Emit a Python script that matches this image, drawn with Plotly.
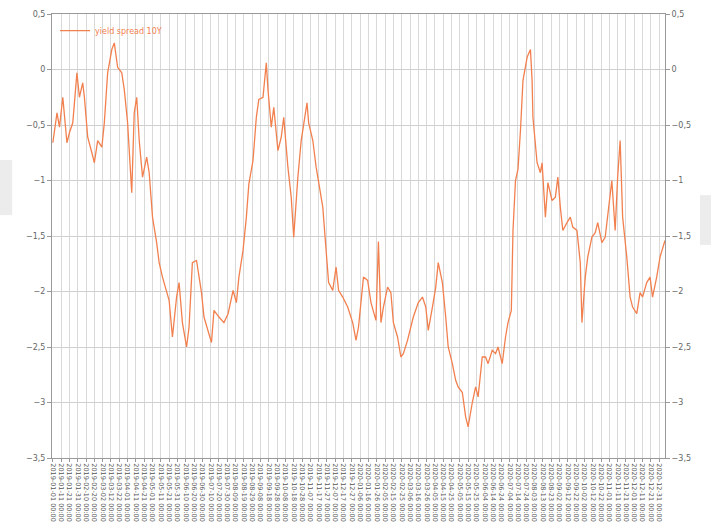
import datetime as dt
import plotly.graph_objects as go

# ---- data ----
start_date = "2019-01-01"
day_offsets = [0, 5, 8, 12, 17, 20, 24, 29, 32, 36, 38, 42, 47, 50, 54, 59, 62, 66, 71, 74,
               78, 83, 86, 90, 95, 98, 101, 104, 108, 113, 116, 120, 125, 128, 132, 137, 140, 144, 149, 152,
               156, 161, 164, 168, 173, 179, 182, 191, 194, 200, 206, 211, 217, 221, 224, 229, 233, 236, 241, 245,
               248, 253, 257, 259, 263, 266, 271, 275, 278, 283, 287, 290, 295, 299, 302, 306, 308, 313, 317, 323,
               325, 329, 332, 337, 341, 344, 349, 355, 361, 365, 368, 374, 379, 383, 389, 392, 395, 398, 403, 407,
               410, 415, 419, 422, 427, 431, 434, 440, 445, 449, 452, 457, 461, 464, 469, 473, 476, 481, 485, 488,
               493, 497, 500, 505, 509, 512, 517, 521, 524, 529, 533, 536, 541, 545, 548, 552, 554, 557, 560, 563,
               566, 571, 575, 577, 578, 583, 587, 589, 593, 596, 601, 605, 608, 611, 614, 619, 623, 626, 631, 635,
               637, 641, 644, 649, 653, 656, 661, 665, 668, 673, 677, 680, 683, 686, 691, 695, 698, 703, 707, 710,
               715, 719, 722, 727, 731, 737]
spread = [-0.66, -0.39, -0.52, -0.25, -0.66, -0.57, -0.48, -0.03, -0.25, -0.12, -0.25, -0.61, -0.75, -0.84, -0.64, -0.70, -0.48, -0.03, 0.18, 0.24,
          0.02, -0.03, -0.18, -0.48, -1.11, -0.39, -0.25, -0.64, -0.97, -0.79, -0.93, -1.33, -1.56, -1.74, -1.87, -1.99, -2.08, -2.41, -2.05, -1.92,
          -2.28, -2.50, -2.32, -1.74, -1.72, -2.01, -2.23, -2.46, -2.17, -2.23, -2.28, -2.20, -1.99, -2.10, -1.87, -1.63, -1.33, -1.03, -0.82, -0.43,
          -0.27, -0.25, 0.06, -0.18, -0.52, -0.34, -0.73, -0.61, -0.43, -0.88, -1.15, -1.51, -0.97, -0.64, -0.48, -0.30, -0.48, -0.64, -0.88, -1.15,
          -1.24, -1.63, -1.92, -1.99, -1.78, -1.99, -2.05, -2.14, -2.28, -2.44, -2.32, -1.87, -1.90, -2.10, -2.26, -1.55, -2.28, -2.14, -1.96, -2.01,
          -2.28, -2.41, -2.59, -2.56, -2.44, -2.32, -2.23, -2.10, -2.05, -2.14, -2.35, -2.14, -1.96, -1.74, -1.92, -2.23, -2.50, -2.65, -2.80, -2.86,
          -2.91, -3.13, -3.22, -3.00, -2.86, -2.95, -2.59, -2.59, -2.65, -2.53, -2.56, -2.50, -2.65, -2.41, -2.28, -2.17, -1.45, -1.00, -0.90, -0.55,
          -0.10, 0.11, 0.18, -0.10, -0.43, -0.84, -0.93, -0.84, -1.33, -1.02, -1.18, -1.15, -0.97, -1.24, -1.45, -1.38, -1.33, -1.42, -1.45, -1.74,
          -2.28, -1.87, -1.69, -1.51, -1.47, -1.38, -1.56, -1.51, -1.33, -1.00, -1.45, -0.97, -0.64, -1.33, -1.69, -2.05, -2.14, -2.20, -2.01, -2.05,
          -1.92, -1.87, -2.05, -1.87, -1.69, -1.54]
series_name = "yield spread 10Y"
y_ticks = [0.5, 0, -0.5, -1, -1.5, -2, -2.5, -3, -3.5]

d0 = dt.datetime.fromisoformat(start_date)
dates = [d0 + dt.timedelta(days=d) for d in day_offsets]

line_color = "#f2804f"
grid = "#d9d9d9"
tick_font = dict(family="DejaVu Sans", size=8, color="#666666")

fig = go.Figure()
fig.add_trace(go.Scatter(x=dates, y=spread, mode="lines", name=series_name,
                         line=dict(color=line_color, width=1.3)))
fig.add_trace(go.Scatter(x=dates, y=spread, mode="lines", yaxis="y2", showlegend=False,
                         hoverinfo="skip", line=dict(color="rgba(0,0,0,0)", width=0)))

x_start = d0 - dt.timedelta(days=1)
x_end = d0 + dt.timedelta(days=day_offsets[-1])

fig.update_layout(
    width=711, height=531,
    margin=dict(l=52, r=46, t=14, b=73, autoexpand=False),
    paper_bgcolor="white", plot_bgcolor="white",
    separators=",.",
    showlegend=True,
    legend=dict(x=0.005, y=0.995, xanchor="left", yanchor="top",
                bgcolor="rgba(0,0,0,0)", font=dict(family="DejaVu Sans", size=8, color=line_color),
                itemwidth=30),
    xaxis=dict(type="date", range=[x_start, x_end], tick0=d0, dtick=10 * 86400000, automargin=False,
               tickformat="%Y-%m-%d %H:%M", tickangle=90, tickfont=dict(family="DejaVu Sans", size=6.5, color="#555555"),
               showgrid=True, gridcolor=grid, gridwidth=1,
               showline=True, linecolor="#999999", linewidth=1, mirror=True,
               ticks="outside", ticklen=3, tickcolor="#999999", zeroline=False),
    yaxis=dict(range=[-3.5, 0.5], tickvals=y_ticks, tickformat=".1~f", automargin=False,
               tickfont=tick_font, showgrid=True, gridcolor="#cfcfcf",
               showline=True, linecolor="#999999", linewidth=1, mirror=True,
               ticks="outside", ticklen=4, tickcolor="#999999", zeroline=False),
    yaxis2=dict(range=[-3.5, 0.5], tickvals=y_ticks, tickformat=".1~f", overlaying="y", side="right",
                automargin=False, tickfont=tick_font, showgrid=False, showline=False,
                ticks="outside", ticklen=4, tickcolor="#999999", zeroline=False),
    shapes=[
        dict(type="rect", xref="paper", yref="paper", x0=-0.085, x1=-0.065, y0=0.547, y1=0.671,
             fillcolor="#ececec", line=dict(width=0), layer="below"),
        dict(type="rect", xref="paper", yref="paper", x0=1.057, x1=1.075, y0=0.48, y1=0.592,
             fillcolor="#ececec", line=dict(width=0), layer="below"),
    ],
)

fig.write_html("out.html")
